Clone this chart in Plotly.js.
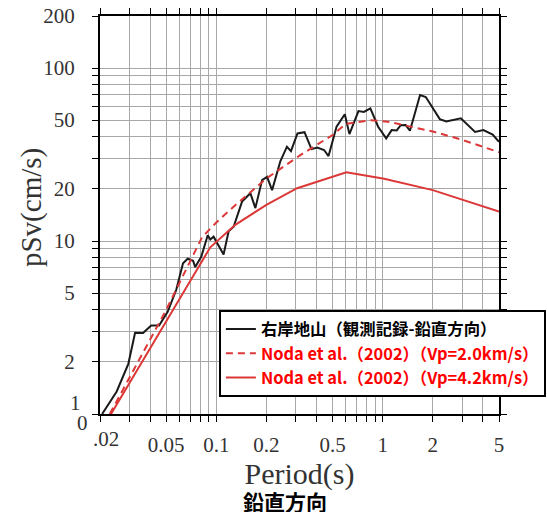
<!DOCTYPE html>
<html>
<head>
<meta charset="utf-8">
<script src="https://cdn.plot.ly/plotly-3.0.1.min.js"></script>
<style>html,body{margin:0;padding:0;background:#fff;}#chart{width:547px;height:512px;}</style>
</head>
<body>
<div id="chart"></div>
<script>
// Observed record (右岸地山, vertical)
const periodObs = [0.0206,0.0252,0.0296,0.0325,0.0363,0.0406,0.0453,0.0510,0.0574,0.0631,0.0673,0.0725,0.0747,0.0812,0.0888,0.0920,0.0963,0.1106,0.1186,0.1271,0.1428,0.1602,0.1717,0.1884,0.2019,0.2164,0.2428,0.2658,0.2810,0.3075,0.3388,0.3734,0.4040,0.4442,0.4726,0.528,0.592,0.631,0.715,0.771,0.843,0.939,1.050,1.132,1.214,1.283,1.375,1.458,1.677,1.815,2.204,2.411,2.950,3.59,4.03,4.58,5.0];
const psvObs = [1.0,1.35,1.95,2.95,2.94,3.25,3.25,3.90,5.21,7.43,7.90,7.69,7.07,8.11,10.8,10.2,10.6,8.36,11.4,12.1,16.9,18.9,15.5,22.5,23.5,19.7,29.0,35.1,33.1,41.9,42.6,34.0,34.7,33.6,31.0,45.8,54.1,41.5,56.4,55.8,58.5,45.8,39.2,43.8,43.6,46.7,46.8,43.4,69.8,68.0,50.7,49.1,51.2,42.7,43.8,41.3,37.5];
// Noda et al. (2002), Vp = 2.0 km/s
const periodVp20 = [0.0229,0.05,0.082,0.1,0.127,0.145,0.2,0.32,0.5,0.6,0.85,1.07,2.0,3.0,5.0];
const psvVp20 = [1.0,4.0,10.5,12.8,15.8,17.6,23.0,31.4,41.0,47.5,50.0,49.0,43.0,38.5,32.6];
// Noda et al. (2002), Vp = 4.2 km/s
const periodVp42 = [0.0233,0.092,0.13,0.2,0.306,0.605,1.02,2.0,5.0];
const psvVp42 = [1.0,9.2,12.4,16.2,20.2,25.0,22.9,19.7,14.8];

const seriesNames = ['右岸地山（観測記録-鉛直方向）','Noda et al.（2002）（Vp=2.0km/s）','Noda et al.（2002）（Vp=4.2km/s）'];

const xTickVals = [0.02,0.03,0.04,0.05,0.06,0.07,0.08,0.09,0.1,0.2,0.3,0.4,0.5,0.6,0.7,0.8,0.9,1,2,3,4,5];
const xLabelled = {0.05:'0.05',0.1:'0.1',0.2:'0.2',0.5:'0.5',1:'1',2:'2',5:'5'};
const yTickVals = [1,2,3,4,5,6,7,8,9,10,20,30,40,50,60,70,80,90,100,200];
const yLabelled = {2:'2',5:'5',10:'10',20:'20',50:'50',100:'100',200:'200'};

const lineRed = '#dc3838';
const textRed = '#ff0000';

const traces = [
  {x: periodObs, y: psvObs, type:'scatter', mode:'lines', name: seriesNames[0],
   line:{color:'#1a1a1a', width:2}},
  {x: periodVp20, y: psvVp20, type:'scatter', mode:'lines', name: '<span style="color:'+textRed+'">'+seriesNames[1]+'</span>',
   line:{color:lineRed, width:2, dash:'7px,5px'}},
  {x: periodVp42, y: psvVp42, type:'scatter', mode:'lines', name: '<span style="color:'+textRed+'">'+seriesNames[2]+'</span>',
   line:{color:lineRed, width:2}}
];

const tickFont = {family:'Liberation Serif, serif', size:21, color:'#333'};

const layout = {
  width:547, height:512,
  margin:{l:100, r:48, t:16, b:98, autoexpand:false},
  paper_bgcolor:'#fff', plot_bgcolor:'#fff',
  showlegend:true,
  legend:{x:0.298, y:0.262, xanchor:'left', yanchor:'top',
    bgcolor:'#fff', bordercolor:'#000', borderwidth:2,
    font:{family:'Noto Sans CJK JP, sans-serif', size:16.4, color:'#000', weight:'bold'},
    tracegroupgap:0, itemwidth:30},
  xaxis:{type:'log', range:[Math.log10(0.02), Math.log10(5)], automargin:true,
    tickmode:'array', tickvals:xTickVals,
    ticktext:xTickVals.map(v => xLabelled[v] || ''),
    tickfont:tickFont, ticks:'outside', ticklen:6, tickcolor:'#000', tickwidth:1,
    ticklabelstandoff:5,
    showgrid:true, gridcolor:'#a8a8a8', gridwidth:1,
    showline:true, linecolor:'#000', linewidth:2, mirror:'ticks',
    title:{text:'Period(s)', font:{family:'Liberation Serif, serif', size:30, color:'#333'}, standoff:2},
    fixedrange:true},
  yaxis:{type:'log', range:[0, Math.log10(200)], automargin:false,
    tickmode:'array', tickvals:yTickVals,
    ticktext:yTickVals.map(v => yLabelled[v] || ''),
    tickfont:tickFont, ticks:'outside', ticklen:6, tickcolor:'#000', tickwidth:1,
    ticklabelstandoff:13,
    showgrid:true, gridcolor:'#a8a8a8', gridwidth:1,
    showline:true, linecolor:'#000', linewidth:2, mirror:'ticks',
    fixedrange:true},
  annotations:[
    {text:'pSv(cm/s)', xref:'paper', yref:'paper', x:-0.170, y:0.518, xanchor:'center', yanchor:'middle', textangle:-90, showarrow:false,
     font:{family:'Liberation Serif, serif', size:29, color:'#333'}},
    {text:'1', xref:'paper', yref:'paper', x:-0.043, y:0.028, xanchor:'right', yanchor:'middle', showarrow:false, font:tickFont},
    {text:'0', xref:'paper', yref:'paper', x:-0.024, y:-0.022, xanchor:'right', yanchor:'middle', showarrow:false, font:tickFont},
    {text:'.02', xref:'paper', yref:'paper', x:-0.022, y:-0.063, xanchor:'left', yanchor:'middle', showarrow:false, font:tickFont},
    {text:'<b>鉛直方向</b>', xref:'paper', yref:'paper', x:0.464, y:-0.218, xanchor:'center', yanchor:'middle', showarrow:false,
     font:{family:'Noto Sans CJK JP, sans-serif', size:21, color:'#000'}}
  ]
};

Plotly.newPlot('chart', traces, layout, {displayModeBar:false, staticPlot:true});
</script>
</body>
</html>
